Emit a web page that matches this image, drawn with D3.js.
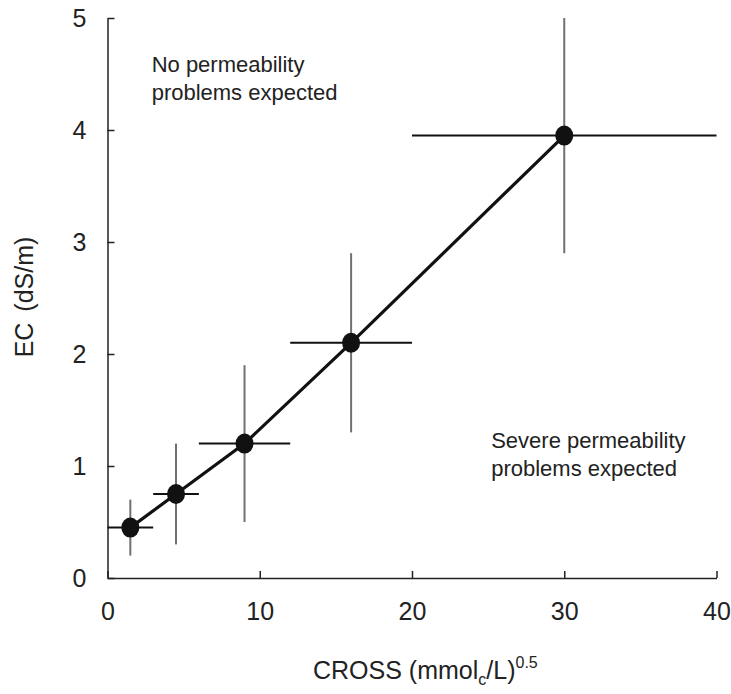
<!DOCTYPE html>
<html lang="en">
<head>
  <meta charset="UTF-8">
  <title>EC vs CROSS</title>
  <script src="https://d3js.org/d3.v7.min.js"></script>
  <style>
    body { margin: 0; background: #fff; }
    svg text { font-family: "Liberation Sans", Arial, sans-serif; fill: #222; }
    .axis path, .axis line { stroke: #222; stroke-width: 1.5px; }
    .axis text { font-size: 25px; }
  </style>
</head>
<body>
  <div id="chart"></div>
  <script>
    const width = 731, height = 694;
    const margin = { top: 18, right: 14.5, bottom: 116, left: 107.5 };

    // CROSS values and their horizontal ranges
    const cross = [1.5, 4.5, 9, 16, 30];
    const crossLo = [0, 3, 6, 12, 20];
    const crossHi = [3, 6, 12, 20, 40];
    // EC values and their vertical ranges
    const ec = [0.45, 0.75, 1.2, 2.1, 3.95];
    const ecLo = [0.2, 0.3, 0.5, 1.3, 2.9];
    const ecHi = [0.7, 1.2, 1.9, 2.9, 5.0];

    const xTicks = [0, 10, 20, 30, 40];
    const yTicks = [0, 1, 2, 3, 4, 5];

    const points = cross.map((c, i) => ({
      x: c, y: ec[i], x0: crossLo[i], x1: crossHi[i], y0: ecLo[i], y1: ecHi[i]
    }));

    const svg = d3.select("#chart")
      .append("svg")
      .attr("width", width)
      .attr("height", height);

    const x = d3.scaleLinear().domain([0, 40]).range([margin.left, width - margin.right]);
    const y = d3.scaleLinear().domain([0, 5]).range([height - margin.bottom, margin.top]);

    // axes, ticks point into the plot
    svg.append("g")
      .attr("class", "axis")
      .attr("transform", `translate(0,${y(0)})`)
      .call(d3.axisBottom(x).tickValues(xTicks).tickFormat(d3.format("d"))
        .tickSizeInner(-7).tickSizeOuter(0).tickPadding(24));

    svg.append("g")
      .attr("class", "axis")
      .attr("transform", `translate(${x(0)},0)`)
      .call(d3.axisLeft(y).tickValues(yTicks).tickFormat(d3.format("d"))
        .tickSizeInner(-7).tickSizeOuter(0).tickPadding(21));

    // vertical error bars (grey)
    svg.append("g")
      .selectAll("line")
      .data(points)
      .enter().append("line")
      .attr("x1", d => x(d.x)).attr("x2", d => x(d.x))
      .attr("y1", d => y(d.y0)).attr("y2", d => y(d.y1))
      .attr("stroke", "#707070")
      .attr("stroke-width", 2);

    // horizontal error bars (black)
    svg.append("g")
      .selectAll("line")
      .data(points)
      .enter().append("line")
      .attr("x1", d => x(d.x0)).attr("x2", d => x(d.x1))
      .attr("y1", d => y(d.y)).attr("y2", d => y(d.y))
      .attr("stroke", "#111")
      .attr("stroke-width", 2);

    // connecting line
    const line = d3.line().x(d => x(d.x)).y(d => y(d.y));
    svg.append("path")
      .datum(points)
      .attr("d", line)
      .attr("fill", "none")
      .attr("stroke", "#111")
      .attr("stroke-width", 3.2);

    // markers
    svg.append("g")
      .selectAll("ellipse")
      .data(points)
      .enter().append("ellipse")
      .attr("cx", d => x(d.x))
      .attr("cy", d => y(d.y))
      .attr("rx", 9)
      .attr("ry", 10)
      .attr("fill", "#111");

    // region notes
    const notes = [
      { x: 2.9, y: 4.52, lines: ["No permeability", "problems expected"] },
      { x: 25.2, y: 1.16, lines: ["Severe permeability", "problems expected"] }
    ];
    notes.forEach(n => {
      const t = svg.append("text")
        .attr("x", x(n.x))
        .attr("y", y(n.y))
        .style("font-size", "22px");
      n.lines.forEach((l, i) => {
        t.append("tspan").attr("x", x(n.x)).attr("dy", i ? 28 : 0).text(l);
      });
    });

    // axis titles
    const xt = svg.append("text")
      .attr("x", 313)
      .attr("y", 679)
      .style("font-size", "25px");
    xt.append("tspan").text("CROSS (mmol");
    xt.append("tspan").attr("dy", 6).style("font-size", "16px").text("c");
    xt.append("tspan").attr("dy", -6).text("/L)");
    xt.append("tspan").attr("dy", -11).style("font-size", "16px").text("0.5");

    svg.append("text")
      .attr("transform", `translate(33,${297}) rotate(-90)`)
      .attr("text-anchor", "middle")
      .style("font-size", "25px")
      .style("word-spacing", "4px")
      .text("EC (dS/m)");
  </script>
</body>
</html>
